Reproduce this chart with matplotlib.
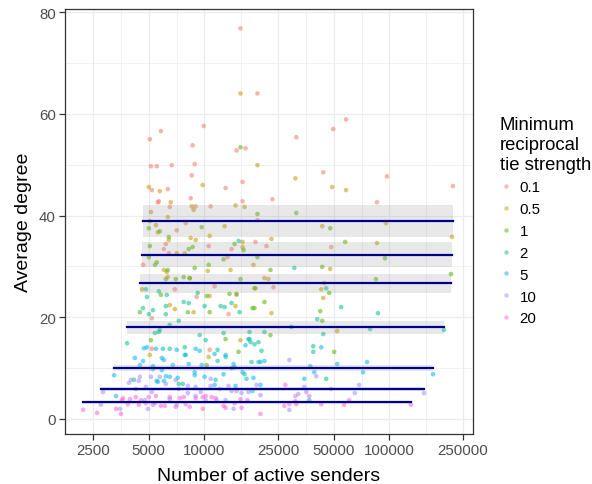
import matplotlib
matplotlib.use('Agg')
import matplotlib.pyplot as plt
from matplotlib.lines import Line2D
from matplotlib.ticker import FixedLocator, NullFormatter

plt.rcParams['font.family'] = ['Liberation Sans', 'DejaVu Sans']

# threshold groups and ggplot hue colours
labels = ['0.1', '0.5', '1', '2', '5', '10', '20']
colors = ['#F8766D', '#C49A00', '#53B400', '#00C094', '#00B6EB', '#A58AFF', '#FB61D7']

# number of active senders / average degree, one pair per threshold
x_01 = [5070, 5140, 5530, 5820, 5200, 5670, 6340, 6500, 6660, 7090, 8430, 8540, 8640, 8860, 8970,
        9910, 10810, 10550, 7930, 13020, 14920, 16080, 16690, 16080, 15680, 19360, 19360, 23330,
        18890, 21650, 31400, 43900, 49690, 58350, 85670, 97020, 220700, 48470, 5600, 6190, 6040,
        6420, 14030, 13350, 4660, 6920, 9090, 11360, 14920, 23620, 44440, 5200, 10680, 13510, 5200]
y_01 = [55.0, 49.7, 49.7, 56.6, 45.0, 42.8, 45.2, 41.7, 49.9, 37.1, 43.4, 47.9, 53.8, 50.1, 41.8,
        57.6, 41.8, 34.0, 38.5, 45.4, 52.8, 46.6, 53.2, 42.8, 76.8, 64.0, 39.1, 43.2,
        34.8, 34.0, 55.4, 48.5, 57.0, 58.9, 42.6, 47.7, 45.8, 33.8, 42.6, 34.4, 33.4,
        32.6, 33.4, 31.8, 30.3, 25.5, 24.0, 26.1, 24.4, 25.9, 26.7, 13.8, 13.6, 20.6, 19.8]

x_05 = [15680, 31020, 49080, 58350, 95820, 218000, 43360, 85670, 5010, 5140, 5740, 6580, 5470, 5600,
        6340, 9790, 12860, 14740, 16480, 19360, 10680, 8430, 8970, 8750, 8540, 16080, 16080, 23040,
        5070, 6420, 6040, 6260, 6340, 7090, 7830, 10420, 13850, 18420, 21120, 22190, 4600, 8330,
        10680, 18890, 47870, 42820, 43900, 6500, 6920, 8750, 5070, 10550, 15680, 14740, 23040, 52230]
y_05 = [64.0, 47.3, 45.6, 45.0, 38.5, 35.8, 37.9, 34.6, 45.6, 40.7, 44.8, 42.6, 38.1, 36.7,
        39.7, 46.0, 37.9, 42.0, 41.7, 49.9, 36.0, 35.6, 35.2, 41.1, 41.8, 34.8, 33.8, 35.4,
        38.9, 35.2, 29.3, 28.9, 27.9, 32.6, 32.6, 29.1, 29.3, 30.3, 27.7, 27.5, 25.5, 27.7,
        24.2, 25.7, 29.5, 25.5, 23.8, 22.4, 21.6, 21.0, 12.6, 12.2, 15.5, 22.2, 20.8, 17.3]

x_1 = [5010, 5070, 5740, 6420, 9670, 15680, 19360, 31400, 47870, 57630, 8640, 8230, 5010, 5530,
       5400, 6340, 8860, 10550, 12700, 14560, 16280, 19360, 7000, 7730, 8330, 6190, 15680, 18650,
       5820, 10290, 13680, 14920, 94630, 22750, 43360, 84610, 215300, 47280, 42290, 43360, 22750,
       50310, 18200, 18650, 13020, 15300, 21120, 10290, 5140, 4480, 8130, 10680]
y_1 = [37.5, 34.0, 36.9, 35.8, 37.7, 53.4, 40.3, 40.5, 37.5, 34.8, 33.8, 33.4, 31.8, 30.8,
       30.3, 29.3, 29.7, 30.3, 31.4, 34.4, 33.2, 31.8, 27.5, 27.9, 27.7, 27.5, 27.5, 25.7,
       24.4, 24.2, 24.6, 24.6, 31.6, 29.3, 29.9, 27.5, 28.5, 24.8, 21.2, 19.3, 16.5,
       13.2, 21.8, 21.8, 15.7, 13.2, 23.0, 10.6, 15.5, 21.0, 21.0, 21.0]

x_2 = [4660, 6190, 7730, 8230, 10030, 12240, 12860, 14030, 15490, 5010, 5270, 6190, 7270, 6500,
       5740, 5670, 5400, 9430, 10160, 12700, 17530, 21120, 17320, 17750, 19600, 18650, 20350,
       17970, 20100, 16480, 4160, 3820, 6500, 7830, 5960, 7930, 11790, 11790, 13020, 7270, 7640,
       54880, 86740, 40750, 43900, 78640, 197100, 38770, 38770, 45560, 29520, 30630, 45560, 15300,
       4890, 5670, 6260, 9200, 4830]
y_2 = [21.8, 22.2, 23.0, 22.8, 22.2, 22.2, 22.0, 22.8, 21.0, 20.6, 21.4, 20.6, 19.3, 18.5,
       17.5, 17.1, 16.9, 16.5, 15.5, 16.9, 17.1, 17.1, 15.7, 15.1, 15.1, 14.7, 13.4,
       11.2, 11.2, 8.8, 7.7, 14.9, 13.8, 14.1, 13.8, 12.6, 13.6, 11.4, 12.2, 6.9, 6.9,
       22.0, 20.8, 19.6, 16.7, 17.7, 17.5, 14.3, 13.2, 7.9, 18.1, 29.7, 25.7, 35.0,
       24.0, 25.1, 24.4, 24.8, 25.5]

x_5 = [4710, 4890, 5470, 4210, 4660, 5890, 6040, 7090, 7830, 8970, 9430, 11360, 13020, 14380,
       14560, 14030, 16690, 17530, 19600, 21120, 3250, 4480, 5270, 6750, 8230, 9670, 5270, 5890,
       6190, 6500, 7180, 8860, 10030, 11500, 16080, 16900, 18420, 5530, 5600, 3330, 6040, 8860,
       11360, 14740, 18200, 12700, 20100, 42820, 52230, 75780, 37360, 39260, 72070, 172100,
       34680, 36900]
y_5 = [13.9, 14.1, 13.8, 12.0, 11.4, 12.0, 11.6, 13.6, 12.6, 13.8, 13.4, 12.8, 12.6, 10.8,
       10.2, 10.0, 14.5, 15.7, 11.2, 11.4, 8.6, 10.6, 10.4, 10.6, 10.8, 10.6, 9.8, 9.6,
       8.4, 8.3, 8.1, 8.6, 8.3, 7.7, 9.2, 7.9, 8.1, 7.5, 7.3, 4.5, 7.5, 9.2,
       6.7, 6.5, 5.5, 8.8, 6.7, 14.1, 10.8, 11.2, 10.4, 9.2, 9.2, 8.8,
       7.9, 3.7]

x_10 = [2760, 3500, 4480, 4420, 5140, 5740, 6190, 7000, 7270, 8130, 8130, 8970, 9550, 10810,
        10810, 12090, 13510, 14030, 14920, 15880, 17320, 19120, 20100, 3910, 4260, 4830, 5200,
        4770, 5400, 6500, 7090, 8970, 10160, 11650, 13020, 14380, 4950, 2830, 4010, 28790, 40250,
        34680, 35550, 32200, 31020, 48470, 68600, 65000, 153900, 28790]
y_10 = [2.8, 2.0, 8.3, 7.5, 8.3, 8.3, 6.9, 7.7, 5.9, 5.1, 6.5, 6.3, 5.3, 7.9,
        6.5, 5.9, 6.5, 5.5, 5.5, 5.1, 5.3, 6.7, 4.7, 7.1, 5.9, 6.3, 5.3,
        3.7, 3.1, 3.9, 2.8, 4.5, 3.7, 3.7, 3.7, 2.0, 2.0, 5.3, 7.7, 11.6, 8.4,
        6.3, 5.3, 4.9, 4.5, 5.9, 6.7, 5.1, 5.1, 1.8]

x_20 = [2210, 2630, 3540, 3630, 3960, 4260, 4540, 5010, 5470, 3860, 4420, 4830, 5270, 5820,
        6500, 7360, 7730, 7930, 8970, 9790, 10160, 8330, 9790, 10950, 11500, 12700, 13020, 14560,
        15680, 15880, 17110, 20100, 6110, 7000, 3330, 3580, 27400, 36900, 31020, 31400, 27060,
        28790, 42820, 56920, 60600, 130800]
y_20 = [1.8, 1.2, 1.0, 4.1, 3.9, 4.3, 3.7, 4.3, 4.5, 2.9, 2.8, 3.1, 2.8, 2.6,
        4.3, 4.1, 4.3, 2.9, 4.1, 4.3, 4.5, 2.4, 2.0, 4.3, 4.1, 2.6, 2.2, 3.1,
        3.9, 2.2, 3.7, 1.0, 2.6, 2.4, 2.0, 3.7, 6.7, 4.5, 3.5, 2.9, 2.6,
        2.9, 2.9, 2.8, 3.7, 2.8]

xs = [x_01, x_05, x_1, x_2, x_5, x_10, x_20]
ys = [y_01, y_05, y_1, y_2, y_5, y_10, y_20]

# flat lm fits (y ~ 1), with 95% band half widths
fit_mean = [38.9, 32.3, 26.7, 18.0, 10.0, 5.9, 3.3]
fit_ci = [3.2, 2.45, 1.85, 1.35, 0.55, 0.35, 0.3]

x_ticks = [2500, 5000, 10000, 25000, 50000, 100000, 250000]
x_minor = [3536, 7071, 15811, 35355, 70711, 158114]
y_ticks = [0, 20, 40, 60, 80]
y_minor = [10, 30, 50, 70]

fig = plt.figure(figsize=(5.92, 4.85), dpi=100)
ax = fig.add_axes([65 / 592, 1 - 435 / 485, 408 / 592, 425 / 485])

for x, y, c in zip(xs, ys, colors):
    ax.scatter(x, y, s=11, color=c, alpha=0.55, edgecolors='none', zorder=2)

for x, m, ci in zip(xs, fit_mean, fit_ci):
    lo, hi = min(x), max(x)
    ax.fill_between([lo, hi], [m - ci] * 2, [m + ci] * 2, color='#999999', alpha=0.22,
                    linewidth=0, zorder=3)
    ax.plot([lo, hi], [m, m], color='#00008B', lw=1.6, zorder=4)

ax.set_xscale('log')
ax.set_xlim(1764, 283200)
ax.set_ylim(-2.95, 80.6)
ax.xaxis.set_major_locator(FixedLocator(x_ticks))
ax.xaxis.set_minor_locator(FixedLocator(x_minor))
ax.set_xticklabels([str(t) for t in x_ticks])
ax.xaxis.set_minor_formatter(NullFormatter())
ax.yaxis.set_major_locator(FixedLocator(y_ticks))
ax.yaxis.set_minor_locator(FixedLocator(y_minor))

ax.set_axisbelow(True)
ax.grid(which='major', color='#EBEBEB', lw=0.9, zorder=0)
ax.grid(which='minor', color='#EBEBEB', lw=0.5, zorder=0)
for sp in ax.spines.values():
    sp.set_color('#333333')
    sp.set_linewidth(0.9)
ax.tick_params(which='major', length=4, width=0.9, color='#333333',
               labelsize=10.8, labelcolor='#4D4D4D', pad=2.5)
ax.tick_params(which='minor', length=0)

ax.set_xlabel('Number of active senders', fontsize=14, labelpad=7)
ax.set_ylabel('Average degree', fontsize=14, labelpad=5)

handles = [Line2D([], [], marker='o', ls='', markersize=3.2, color=c, alpha=0.5,
                  markeredgewidth=0) for c in colors]
leg = fig.legend(handles, labels, title='Minimum\nreciprocal\ntie strength',
                 loc='upper left', bbox_to_anchor=(489 / 592, 1 - 107 / 485),
                 frameon=False, fontsize=10.8, title_fontsize=13.3, alignment='left',
                 handlelength=0.8, handletextpad=0.55, labelspacing=0.52, borderpad=0.2)

fig.savefig('out.png', dpi=100)
